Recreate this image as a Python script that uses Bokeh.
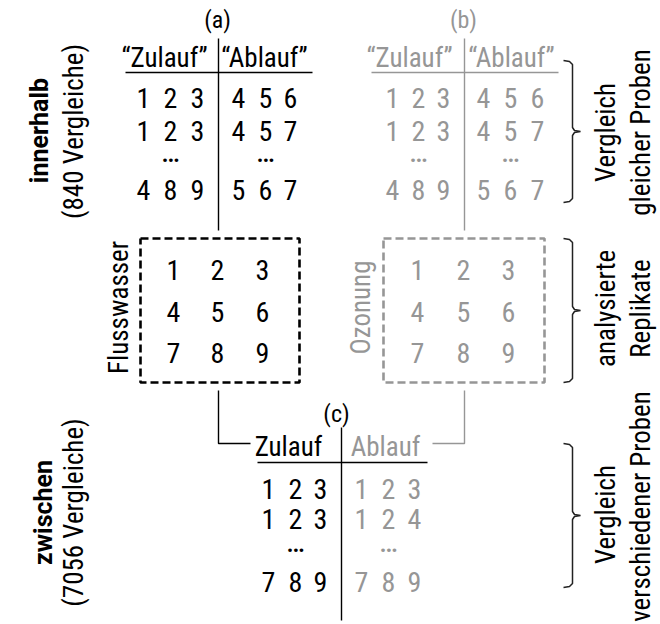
import math
from bokeh.plotting import figure
from bokeh.models import Range1d
from bokeh.core.properties import value
from bokeh.embed import file_html
from bokeh.resources import INLINE

# ---------------- content ----------------
panel_tags = ["(a)", "(b)", "(c)"]
quoted_heads = ["\u201cZulauf\u201d", "\u201cAblauf\u201d"]
plain_heads = ["Zulauf", "Ablauf"]
a_zulauf_rows = [["1", "2", "3"], ["1", "2", "3"], ["\u2026"], ["4", "8", "9"]]
a_ablauf_rows = [["4", "5", "6"], ["4", "5", "7"], ["\u2026"], ["5", "6", "7"]]
c_zulauf_rows = [["1", "2", "3"], ["1", "2", "3"], ["\u2026"], ["7", "8", "9"]]
c_ablauf_rows = [["1", "2", "3"], ["1", "2", "4"], ["\u2026"], ["7", "8", "9"]]
replicate_grid = [["1", "2", "3"], ["4", "5", "6"], ["7", "8", "9"]]
box_names = ["Flusswasser", "Ozonung"]
group_names = ["innerhalb", "zwischen"]
group_counts = ["(840 Vergleiche)", "(7056 Vergleiche)"]
brace_notes = [["Vergleich", "gleicher Proben"],
               ["analysierte", "Replikate"],
               ["Vergleich", "verschiedener Proben"]]

# ---------------- style / layout ----------------
FONT = "Roboto Condensed"
BOLD_FONT = "Roboto"
BLACK = "#000000"
GRAY = "#969696"
FS = "28px"       # digits
HEAD_FS = "27px"  # table headers
ROT_FS = "27px"   # rotated labels
TAG_FS = "24px"
DOT_FS = "32px"
D = 9             # baseline compensation

W, H = 660, 624
p = figure(width=W, height=H, output_backend="svg", toolbar_location=None,
           x_range=Range1d(0, W), y_range=Range1d(H, 0), min_border=0)
p.axis.visible = False
p.grid.visible = False
p.outline_line_color = None
p.background_fill_color = "white"
p.border_fill_color = "white"

ROT = math.pi / 2


def txt(x, y, s, color=BLACK, size=FS, rot=False, bold=False, font=FONT):
    # (x, y): for horizontal text, centre-x and baseline-y;
    # for rotated text (reading upwards), baseline-x and centre-y
    if rot:
        x = x - D
    else:
        y = y - D
    p.text(x=[x], y=[y], text=[s], text_color=color, text_font=value(font),
           text_font_size=size, angle=ROT if rot else 0.0, text_align="center",
           text_baseline="alphabetic", text_font_style="bold" if bold else "normal")


def line(xs, ys, color=BLACK, width=1.4, dash="solid"):
    p.line(x=xs, y=ys, line_color=color, line_width=width, line_dash=dash)


def table(rows, cols, row_ys, color):
    for r, y in zip(rows, row_ys):
        if len(r) == 1:
            txt(cols[1], y, r[0], color=color, size=DOT_FS)
        else:
            for x, c in zip(cols, r):
                txt(x, y, c, color=color)


# ---- panels (a) and (b) ----
top_rows_y = [106, 139, 159, 198]
for k, (cx, col, lx, rx, lcols, rcols) in enumerate([
        (218, BLACK, 164, 264, [143, 170, 197], [238, 265, 290]),
        (464, GRAY, 409, 511, [392, 418, 443], [483, 510, 537])]):
    txt(cx - 1, 28, panel_tags[k], color=col, size=TAG_FS)
    txt(lx, 66, quoted_heads[0], color=col, size=HEAD_FS)
    txt(rx, 66, quoted_heads[1], color=col, size=HEAD_FS)
    line([cx, cx], [38, 230], color=col)
    line([cx - 93, cx + 94], [72, 72], color=col, width=1.6)
    table(a_zulauf_rows, lcols, top_rows_y, col)
    table(a_ablauf_rows, rcols, top_rows_y, col)

# ---- replicate boxes ----
grid_rows_y = [278, 320, 361]
for k, (x0, x1, col, gcols, lab_x) in enumerate([
        (140, 299, BLACK, [173, 217, 262], 127),
        (383, 544, GRAY, [417, 463, 508], 369)]):
    line([x0, x1, x1, x0, x0], [238, 238, 382, 382, 238], color=col, width=2.6, dash="8 4")
    for row, y in zip(replicate_grid, grid_rows_y):
        for x, c in zip(gcols, row):
            txt(x, y, c, color=col)
    txt(lab_x, 307, box_names[k], color=col, size=ROT_FS, rot=True)

# connectors to (c)
line([218, 218, 250], [390, 443, 443], color=BLACK)
line([464, 464, 432], [390, 443, 443], color=GRAY)

# ---- panel (c) ----
txt(336, 422, panel_tags[2], size=TAG_FS)
line([341, 341], [427, 620], color=BLACK)
line([257, 427], [462, 462], color=BLACK, width=1.6)
txt(288, 455, plain_heads[0], color=BLACK, size=HEAD_FS)
txt(385, 455, plain_heads[1], color=GRAY, size=HEAD_FS)
c_rows_y = [497, 527, 549, 590]
table(c_zulauf_rows, [268, 295, 320], c_rows_y, BLACK)
table(c_ablauf_rows, [361, 388, 414], c_rows_y, GRAY)

# ---- left group labels ----
txt(48, 130, group_names[0], rot=True, bold=True, size="25px", font=BOLD_FONT)
txt(82, 131, group_counts[0], rot=True, size=ROT_FS)
txt(52, 512, group_names[1], rot=True, bold=True, size="25px", font=BOLD_FONT)
txt(82, 512, group_counts[1], rot=True, size=ROT_FS)

# ---- braces and notes ----
for (t, b), note, cy, cy2 in zip([(60, 202), (238, 382), (443, 587)], brace_notes,
                                 [132, 308, 514], [132, 308, 506]):
    m = (t + b) / 2
    xs = [563, 569, 572, 572, 574, 580, 574, 572, 572, 569, 563]
    ys = [t, t + 1, t + 4, m - 4, m - 1, m, m + 1, m + 4, b - 4, b - 1, b]
    line(xs, ys, color="#222222", width=1.5)
    txt(614, cy, note[0], size=ROT_FS, rot=True)
    txt(649, cy2, note[1], size=ROT_FS, rot=True)

open("out.html", "w").write(file_html(p, INLINE))
